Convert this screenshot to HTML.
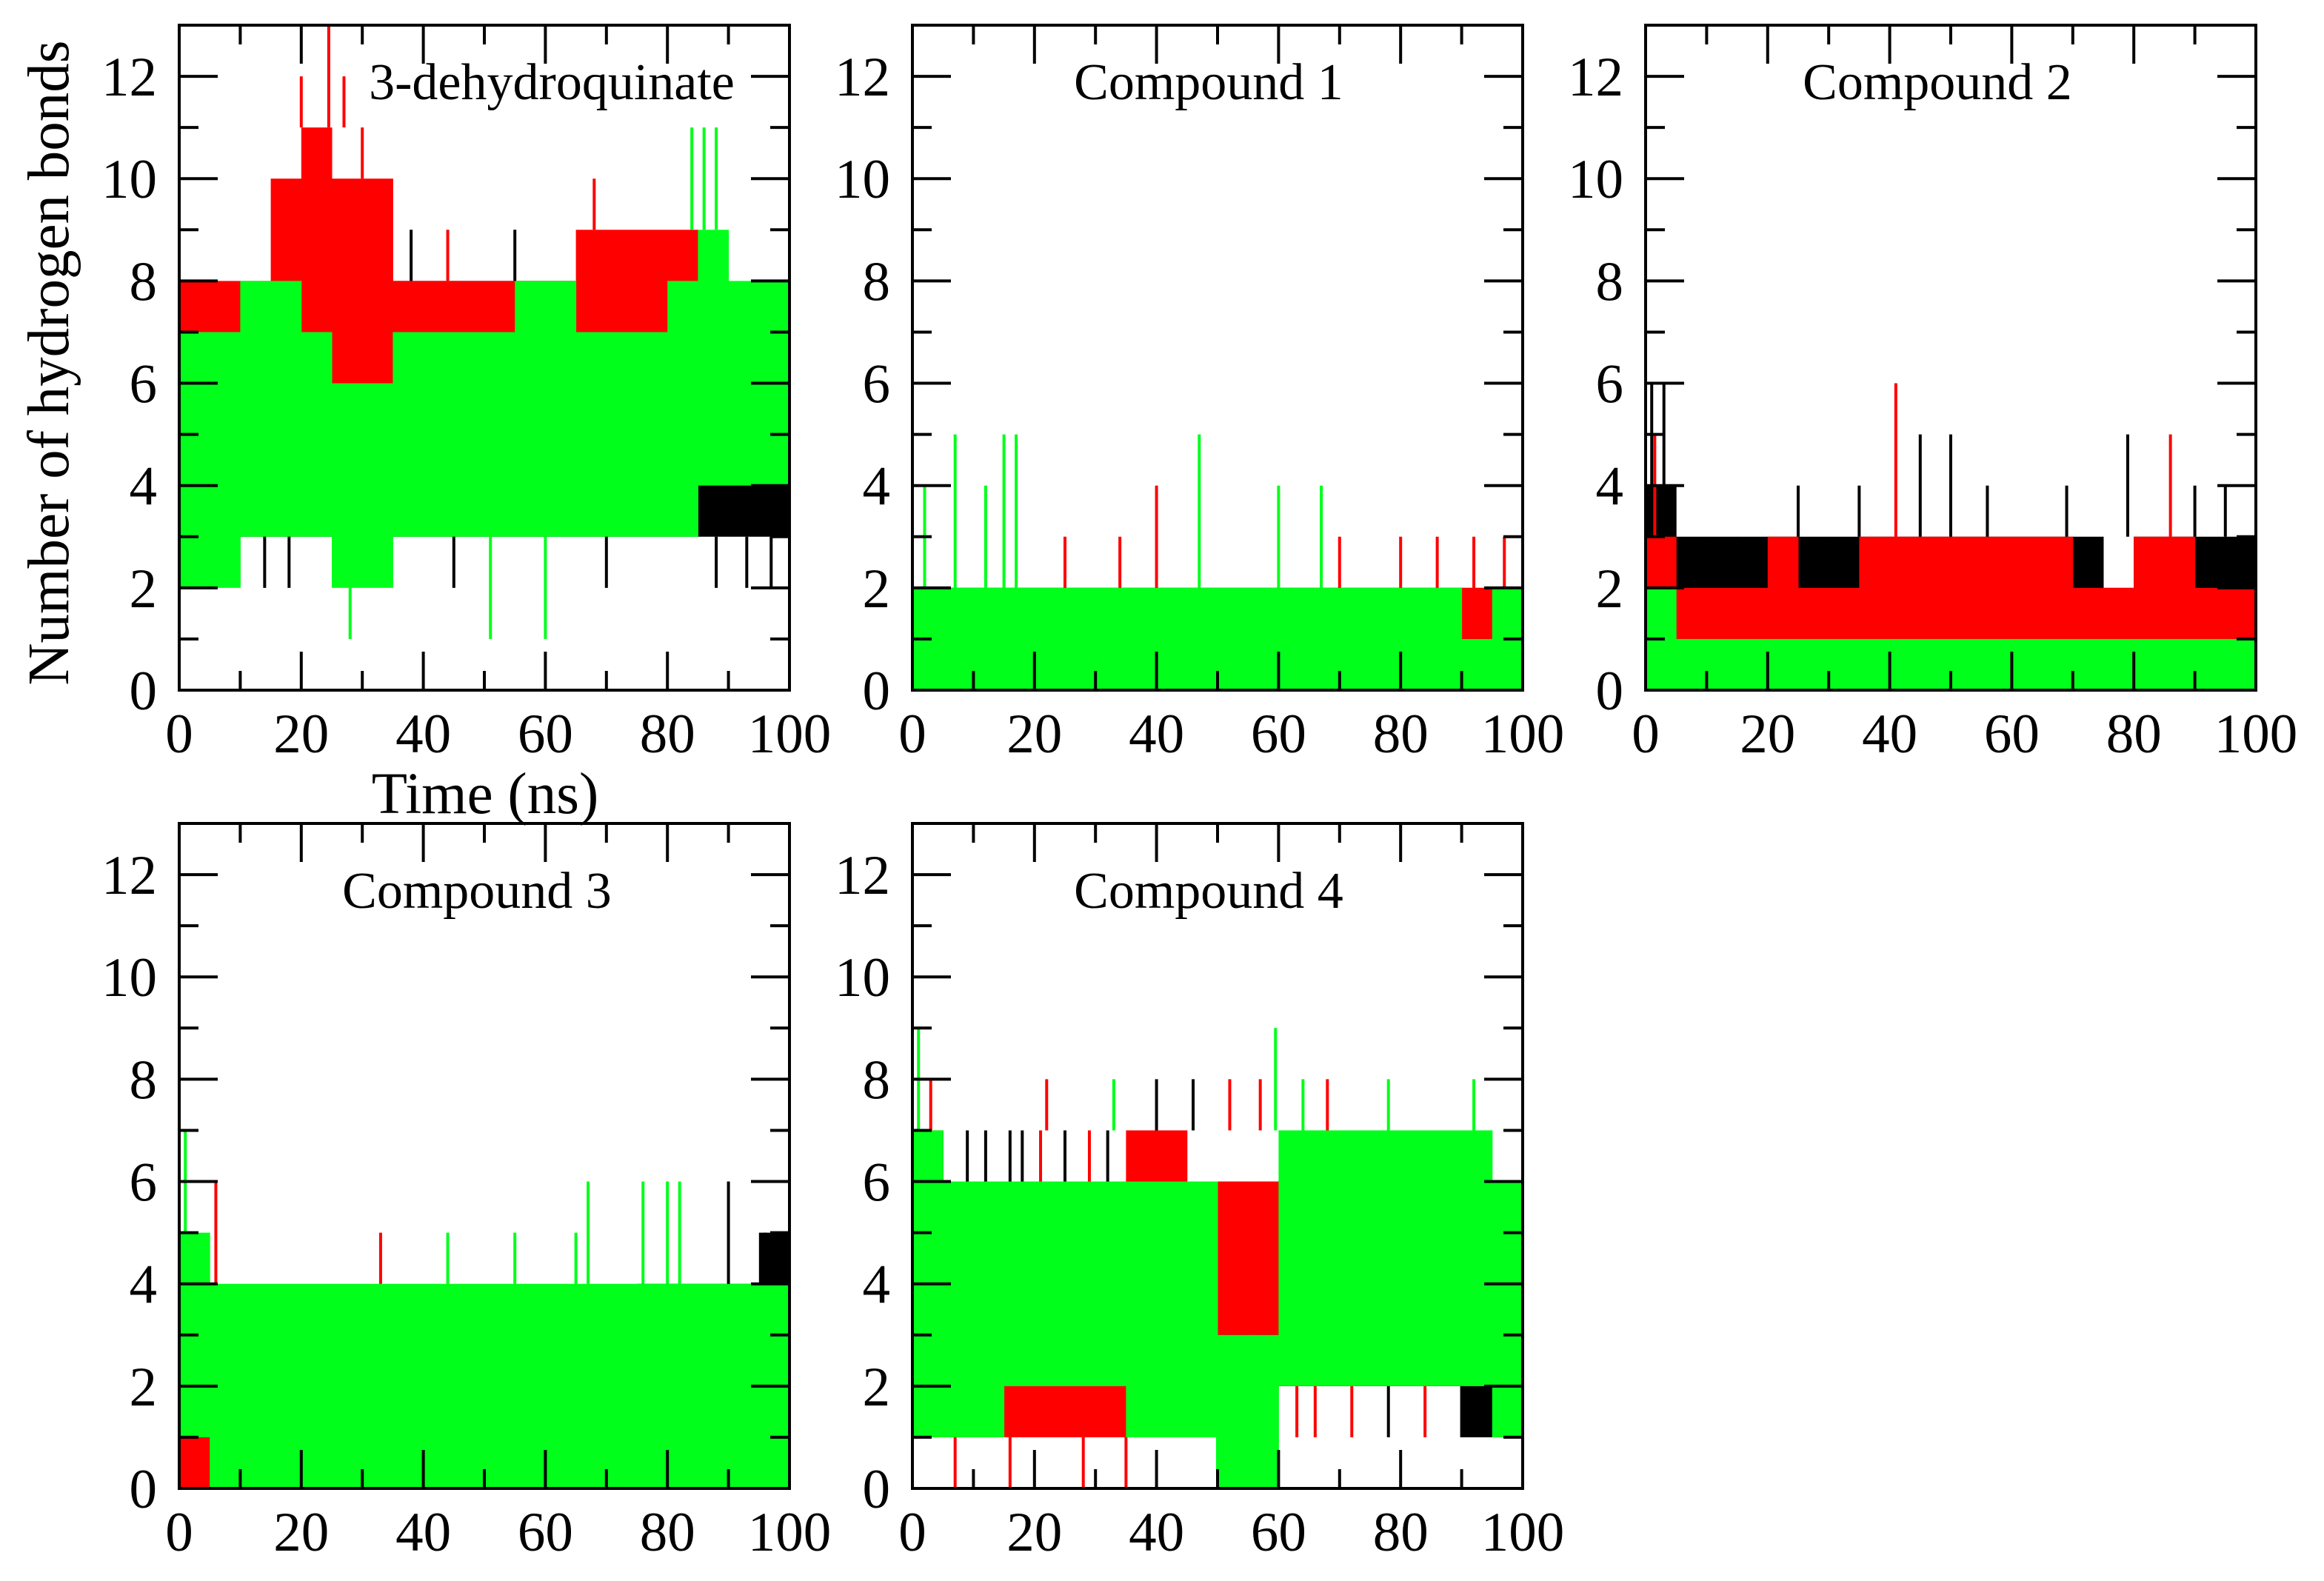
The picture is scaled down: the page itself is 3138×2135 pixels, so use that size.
<!DOCTYPE html>
<html><head><meta charset="utf-8">
<style>
html,body{margin:0;padding:0;background:#fff;}
svg{display:block;}
text{font-family:"Liberation Serif",serif;fill:#000;}
</style></head>
<body>
<svg id="chart" width="3138" height="2135" viewBox="0 0 3138 2135" xmlns="http://www.w3.org/2000/svg"></svg>
<script>
// Bin start times (ns), 5 ns bins
const binTimes = [0,5,10,15,20,25,30,35,40,45,50,55,60,65,70,75,80,85,90,95];
const panelTitles = ["3-dehydroquinate","Compound 1","Compound 2","Compound 3","Compound 4"];
const yTickLabels = [0,2,4,6,8,10,12];
const xTickLabels = [0,20,40,60,80,100];

// Panel 1: 3-dehydroquinate  (dense band low / high per bin)
const p1BlackLo = [3,3,3,3,3,3,3,3,3,3,3,3,3,3,3,3,3,3,3,3];
const p1BlackHi = [7,7,7,7,7,7,8,8,8,8,8,8,8,8,8,8,8,8,7,7];
const p1RedLo   = [5,5,6,6,6,6,6,7,7,7,7,7,7,7,7,7,7,6,5,4];
const p1RedHi   = [8,8,8,10,11,10,10,8,8,8,8,8,8,9,9,9,9,8,7,6];
const p1GreenLo = [2,2,3,3,3,2,2,3,3,3,3,3,3,3,3,3,3,4,4,4];
const p1GreenHi = [7,7,8,8,7,6,6,7,7,7,7,8,8,7,7,7,8,9,8,8];
// Panel 2: Compound 1
const p2BlackLo = [0,0,0,0,0,0,0,0,0,0,0,0,0,0,0,0,0,0,0,0];
const p2BlackHi = [2,2,2,2,2,2,2,2,2,2,2,2,2,2,2,2,2,2,2,2];
const p2RedLo   = [0,0,0,0,0,0,0,0,0,0,0,0,0,0,0,0,0,0,1,0];
const p2RedHi   = [2,2,2,2,2,2,2,2,2,2,2,2,2,2,2,2,2,2,2,2];
const p2GreenLo = [0,0,0,0,0,0,0,0,0,0,0,0,0,0,0,0,0,0,0,0];
const p2GreenHi = [2,2,2,2,2,2,2,2,2,2,2,2,2,2,2,2,2,2,1,2];
// Panel 3: Compound 2
const p3BlackLo = [1,1,1,1,1,1,1,1,1,1,1,1,1,1,1,1,1,1,1,1];
const p3BlackHi = [4,3,3,3,3,3,3,3,3,3,3,3,3,3,3,2,3,3,3,3];
const p3RedLo   = [1,1,1,1,1,1,1,1,1,1,1,1,1,1,1,1,1,1,1,1];
const p3RedHi   = [3,2,2,2,3,2,2,3,3,3,3,3,3,3,2,2,3,3,2,2];
const p3GreenLo = [0,0,0,0,0,0,0,0,0,0,0,0,0,0,0,0,0,0,0,0];
const p3GreenHi = [2,1,1,1,1,1,1,1,1,1,1,1,1,1,1,1,1,1,1,1];
// Panel 4: Compound 3
const p4BlackLo = [0,0,0,0,0,0,0,0,0,0,0,0,0,0,0,0,0,0,0,0];
const p4BlackHi = [4,3,3,3,3,3,3,3,3,3,3,3,3,3,3,4,4,4,4,5];
const p4RedLo   = [0,0,0,0,0,0,0,0,0,0,0,0,0,0,0,0,0,0,0,0];
const p4RedHi   = [1,1,1,1,1,1,1,1,1,1,1,1,1,1,1,1,1,1,1,1];
const p4GreenLo = [1,0,0,0,0,0,0,0,0,0,0,0,0,0,0,0,0,0,0,0];
const p4GreenHi = [5,4,4,4,4,4,4,4,4,4,4,4,4,4,4,4,4,4,4,4];
// Panel 5: Compound 4
const p5BlackLo = [1,2,2,2,2,2,2,2,2,2,2,2,2,2,2,2,2,2,1,1];
const p5BlackHi = [7,6,6,6,6,6,6,6,6,6,6,6,6,6,6,6,6,6,6,6];
const p5RedLo   = [1,1,1,1,1,1,1,2,2,2,3,3,2,2,2,2,2,2,2,2];
const p5RedHi   = [7,6,6,6,6,6,6,7,7,6,6,6,6,6,6,6,6,6,6,6];
const p5GreenLo = [1,1,1,2,2,2,2,1,1,1,0,0,2,2,2,2,2,2,2,1];
const p5GreenHi = [7,6,6,6,6,6,6,6,6,6,3,3,7,7,7,7,7,7,7,6];

// Spikes: [time, color, low, high]
const p1Spikes = [[3,"r",10,10],[24.5,"r",11,13],[20,"r",11,12],[27,"r",11,12],[30,"r",10,11],[44,"r",8,9],[68,"r",9,10],[84,"g",9,11],[86,"g",9,11],[88,"g",9,11],[28,"g",1,3],[51,"g",1,3],[60,"g",1,3],[38,"k",8,9],[55,"k",8,9],[14,"k",2,3],[18,"k",2,3],[45,"k",2,3],[70,"k",2,3],[88,"k",2,3],[93,"k",2,3],[97,"k",2,3]];
const p2Spikes = [[2,"g",2,4],[7,"g",2,5],[12,"g",2,4],[15,"g",2,5],[17,"g",2,5],[47,"g",2,5],[25,"r",2,3],[34,"r",2,3],[40,"r",2,4],[60,"g",2,4],[67,"g",2,4],[70,"r",2,3],[80,"r",2,3],[86,"r",2,3],[92,"r",2,3],[97,"r",2,3]];
const p3Spikes = [[1,"k",4,6],[3,"k",4,6],[1.5,"r",3,5],[25,"k",3,4],[35,"k",3,4],[41,"r",3,6],[45,"k",3,5],[50,"k",3,5],[56,"k",3,4],[69,"k",3,4],[79,"k",3,5],[86,"r",3,5],[90,"k",3,4],[95,"k",3,4]];
const p4Spikes = [[1,"g",4,7],[6,"r",4,6],[33,"r",4,5],[44,"g",4,5],[55,"g",4,5],[65,"g",4,5],[67,"g",4,6],[76,"g",4,6],[80,"g",4,6],[82,"g",4,6],[90,"k",4,6],[96,"k",4,5]];
const p5Spikes = [[1,"g",7,9],[3,"r",7,8],[22,"r",7,8],[33,"g",7,8],[40,"k",7,8],[46,"k",7,8],[52,"r",7,8],[57,"r",7,8],[59.5,"g",7,9],[64,"g",7,8],[68,"r",7,8],[78,"g",7,8],[92,"g",7,8],[7,"r",0,1],[16,"r",0,1],[28,"r",0,1],[35,"r",0,1],[50,"g",0,1],[9,"k",6,7],[12,"k",6,7],[16,"k",6,7],[18,"k",6,7],[21,"r",6,7],[25,"k",6,7],[29,"r",6,7],[32,"k",6,7],[63,"r",1,2],[66,"r",1,2],[72,"r",1,2],[78,"k",1,2],[84,"r",1,2],[90,"k",1,2]];

const panels = [
  {x:242,y:34,title:panelTitles[0],tx:745,ty:112,series:[["#000",p1BlackLo,p1BlackHi],["#ff0000",p1RedLo,p1RedHi],["#00ff1a",p1GreenLo,p1GreenHi]],spikes:p1Spikes},
  {x:1232,y:34,title:panelTitles[1],tx:1632,ty:112,series:[["#000",p2BlackLo,p2BlackHi],["#ff0000",p2RedLo,p2RedHi],["#00ff1a",p2GreenLo,p2GreenHi]],spikes:p2Spikes},
  {x:2222,y:34,title:panelTitles[2],tx:2616,ty:112,series:[["#000",p3BlackLo,p3BlackHi],["#ff0000",p3RedLo,p3RedHi],["#00ff1a",p3GreenLo,p3GreenHi]],spikes:p3Spikes},
  {x:242,y:1112,title:panelTitles[3],tx:644,ty:1204,series:[["#000",p4BlackLo,p4BlackHi],["#ff0000",p4RedLo,p4RedHi],["#00ff1a",p4GreenLo,p4GreenHi]],spikes:p4Spikes},
  {x:1232,y:1112,title:panelTitles[4],tx:1632,ty:1204,series:[["#000",p5BlackLo,p5BlackHi],["#ff0000",p5RedLo,p5RedHi],["#00ff1a",p5GreenLo,p5GreenHi]],spikes:p5Spikes}
];
const W=824,H=898,YMAX=13,XMAX=100;
const svg=document.getElementById('chart');
const NS="http://www.w3.org/2000/svg";
function mk(tag,attrs,parent){const e=document.createElementNS(NS,tag);for(const k in attrs)e.setAttribute(k,attrs[k]);(parent||svg).appendChild(e);return e;}
const colMap={k:"#000",r:"#ff0000",g:"#00ff1a"};
const names=["black","red","green"];

panels.forEach((p,pi)=>{
  const sx=t=>p.x+t/XMAX*W;
  const sy=v=>p.y+H-v/YMAX*H;
  const g=mk('g',{});
  
  
  p.series.forEach((s,si)=>{
    const sg=mk('g',{},g);
    
    
    binTimes.forEach((t,i)=>{
      const r=mk('rect',{x:sx(t),y:sy(s[2][i]),width:sx(t+5)-sx(t)+0.5,height:sy(s[1][i])-sy(s[2][i]),fill:s[0]},sg);
      
      
    });
  });
  p.spikes.forEach(sp=>{
    const l=mk('line',{x1:sx(sp[0]),x2:sx(sp[0]),y1:sy(sp[2]),y2:sy(sp[3]),stroke:colMap[sp[1]],'stroke-width':4},g);
    
    
  });
  for(let v=0;v<=YMAX;v++){
    const len=v%2===0?52:26;
    mk('line',{x1:p.x,x2:p.x+len,y1:sy(v),y2:sy(v),stroke:'#000','stroke-width':4},g);
    mk('line',{x1:p.x+W,x2:p.x+W-len,y1:sy(v),y2:sy(v),stroke:'#000','stroke-width':4},g);
  }
  for(let t=0;t<=XMAX;t+=10){
    const len=t%20===0?52:26;
    mk('line',{x1:sx(t),x2:sx(t),y1:p.y+H,y2:p.y+H-len,stroke:'#000','stroke-width':4},g);
    mk('line',{x1:sx(t),x2:sx(t),y1:p.y,y2:p.y+len,stroke:'#000','stroke-width':4},g);
  }
  const fr=mk('rect',{x:p.x,y:p.y,width:W,height:H,fill:'none',stroke:'#000','stroke-width':4},g);
  
  
  yTickLabels.forEach(v=>{
    const tx=mk('text',{x:p.x-30,y:sy(v)+26,'text-anchor':'end','font-size':75},g);
    tx.textContent=v;
    
    
  });
  xTickLabels.forEach(t=>{
    const tx=mk('text',{x:sx(t),y:p.y+H+84,'text-anchor':'middle','font-size':75},g);
    tx.textContent=t;
    
    
  });
  const tt=mk('text',{x:p.tx,y:p.ty+22,'text-anchor':'middle','font-size':70},g);
  tt.textContent=p.title;
  
  
});
const yt=mk('text',{x:0,y:0,'text-anchor':'middle','font-size':79,transform:'translate(92,490) rotate(-90)'});
yt.textContent='Number of hydrogen bonds';


const xt=mk('text',{x:655,y:1098,'text-anchor':'middle','font-size':79});
xt.textContent='Time (ns)';


</script>
</body></html>
